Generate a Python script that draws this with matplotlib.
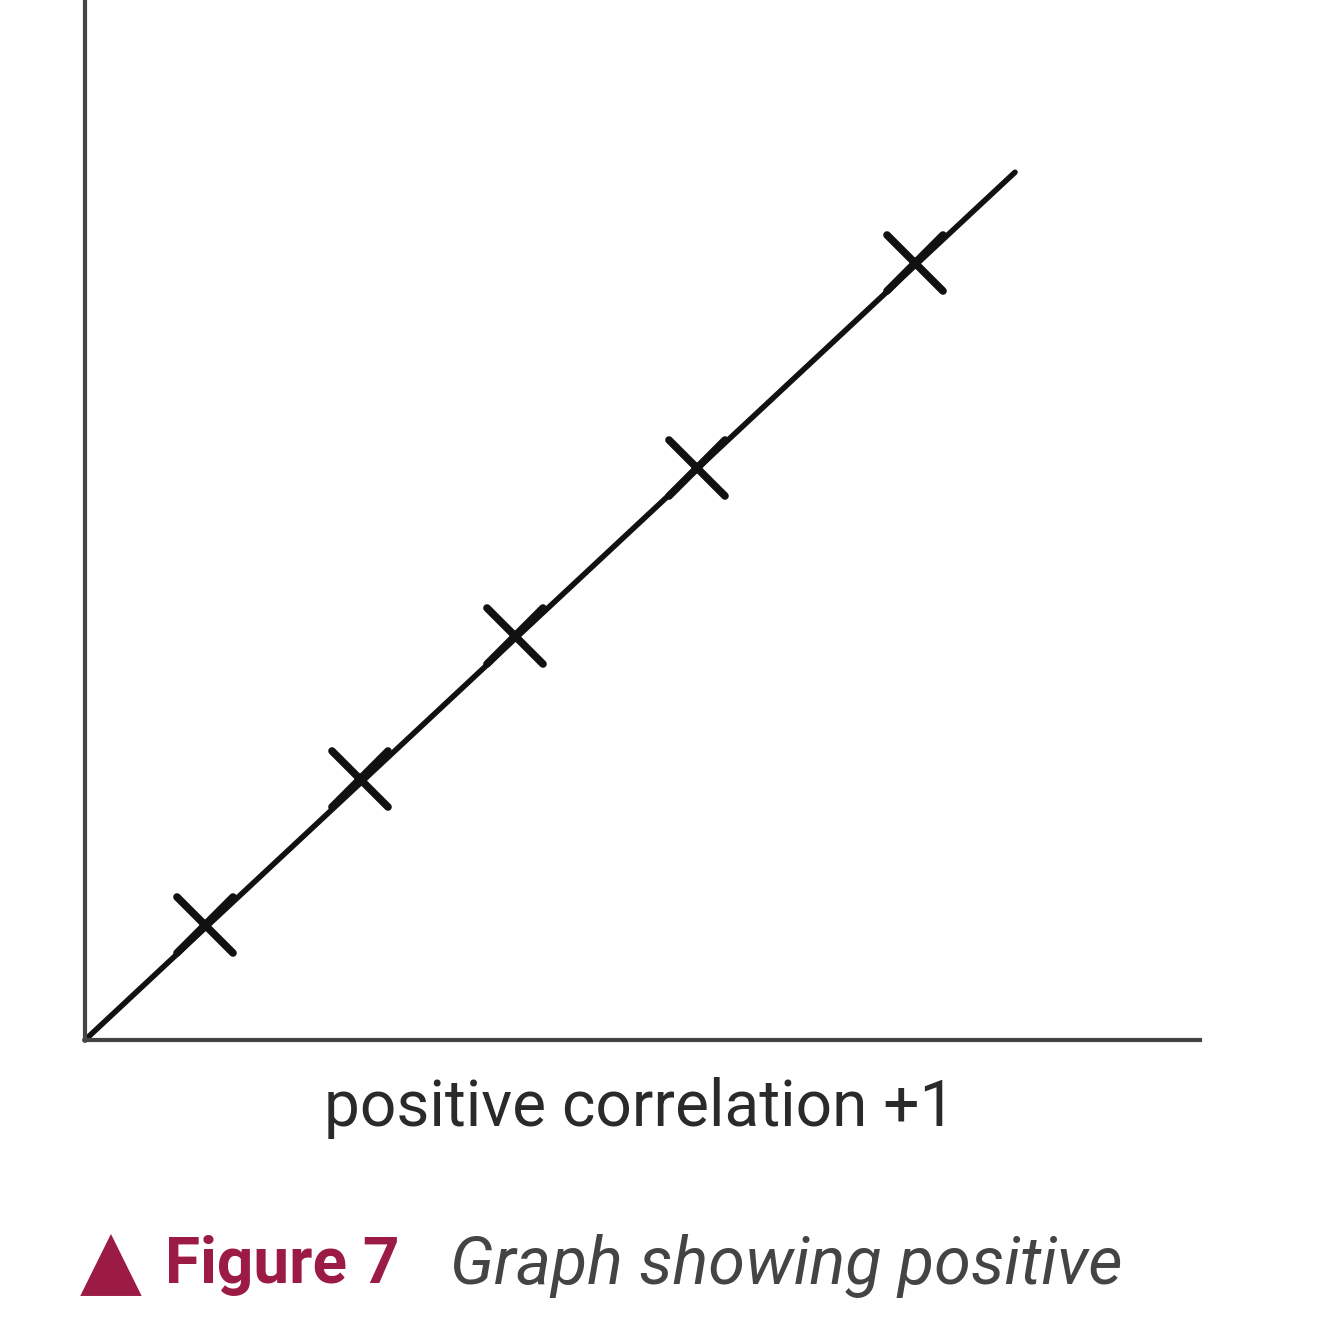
import matplotlib
matplotlib.use("Agg")
import matplotlib.pyplot as plt
from matplotlib.markers import MarkerStyle

# data points (arbitrary units)
x_points = [1.20, 2.75, 4.30, 6.12, 8.30]
y_points = [1.15, 2.60, 4.03, 5.70, 7.75]
# best fit line end points
line_x = [0.0, 9.30]
line_y = [0.0, 8.65]

axis_label = "positive correlation +1"
fig_label = "Figure 7"
fig_caption = "Graph showing positive"

crimson = "#9b1b45"

fig = plt.figure(figsize=(13.34, 13.34), dpi=100)
ax = fig.add_axes([85/1334, 1 - 1040/1334, (1200 - 85)/1334, 1040/1334 + 0.01])

ax.plot(line_x, line_y, color="#111111", lw=4.0, solid_capstyle="round", clip_on=False)
ax.plot(x_points, y_points, linestyle="none",
        marker=MarkerStyle("x", capstyle="round"), markersize=40,
        markeredgewidth=5.5, color="#111111", clip_on=False)

ax.set_xlim(0, 11.15)
ax.set_ylim(0, 10.50)
ax.set_xticks([])
ax.set_yticks([])
for side in ["top", "right"]:
    ax.spines[side].set_visible(False)
for side in ["left", "bottom"]:
    ax.spines[side].set_color("#444444")
    ax.spines[side].set_linewidth(3)

fig.text(640/1334, 1 - 1108/1334, axis_label, ha="center", va="center",
         fontsize=46, color="#2a2a2a", family="Roboto")

fig.text(80/1334, 1 - 1264/1334, "\u25B2", ha="left", va="center",
         fontsize=58, color=crimson, family="DejaVu Sans")
fig.text(165/1334, 1 - 1266/1334, fig_label, ha="left", va="center",
         fontsize=46, color=crimson, family="Roboto", weight="bold")
fig.text(450/1334, 1 - 1266/1334, fig_caption, ha="left", va="center",
         fontsize=48, color="#444444", family="Roboto", style="italic")

fig.savefig("out.png", dpi=100, facecolor="white")
